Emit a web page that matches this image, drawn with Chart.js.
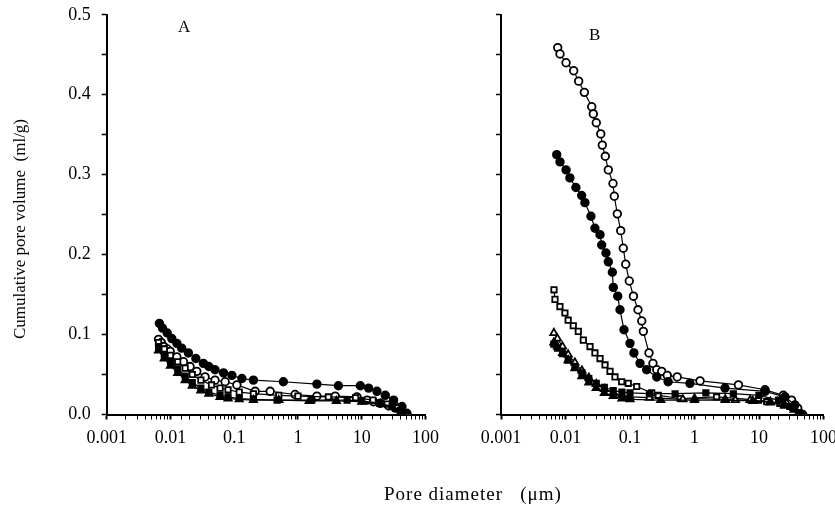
<!DOCTYPE html>
<html>
<head>
<meta charset="utf-8">
<script src="https://cdn.jsdelivr.net/npm/chart.js@4/dist/chart.umd.min.js"></script>
<style>
  body { margin: 0; background: #fff; }
  #wrap { position: relative; width: 835px; height: 509px; overflow: hidden; }
  canvas { position: absolute; top: -7px; }
  .txt { position: absolute; font-family: "Liberation Serif", serif; font-size: 17px; color: #000; white-space: nowrap; }
</style>
</head>
<body>
<div id="wrap">
  <canvas id="chartA" width="447" height="516" style="left:0"></canvas>
  <canvas id="chartB" width="445" height="516" style="left:400px"></canvas>
  <div class="txt" style="left:178px; top:17px;">A</div>
  <div class="txt" style="left:589px; top:25px;">B</div>
  <div class="txt" style="left:384px; top:483px; font-size:19px; letter-spacing:1px;">Pore diameter&nbsp;&nbsp;&nbsp;(μm)</div>
  <div class="txt" style="left:20px; top:229px; transform: translate(-50%, -50%) rotate(-90deg);">Cumulative pore volume&nbsp; (ml/g)</div>
</div>
<script>
// x tick labels (log axis) and y tick labels
const xTickLabels = [0.001, 0.01, 0.1, 1, 10, 100];
const yTickLabels = ['0.0', '0.1', '0.2', '0.3', '0.4', '0.5'];

// ---- Panel A ----
const aFilledCircleX = [0.0067, 0.0075, 0.0089, 0.0105, 0.0126, 0.015, 0.0191, 0.025, 0.0328, 0.04, 0.05, 0.068, 0.092, 0.132, 0.2, 0.59, 1.98, 4.3, 9.5, 12.8, 17.3, 23.4, 31.6, 42.7, 51];
const aFilledCircleY = [0.114, 0.108, 0.102, 0.095, 0.089, 0.083, 0.077, 0.070, 0.064, 0.060, 0.056, 0.052, 0.049, 0.045, 0.043, 0.041, 0.038, 0.036, 0.036, 0.033, 0.029, 0.024, 0.018, 0.010, 0.0015];

const aOpenCircleX = [0.0065, 0.0072, 0.0079, 0.0089, 0.0099, 0.0126, 0.016, 0.0203, 0.0259, 0.0349, 0.05, 0.072, 0.11, 0.213, 0.366, 0.9, 1.98, 3.84, 8.4, 12.1, 15.3, 19.5, 26.3, 33.6, 42.7, 51];
const aOpenCircleY = [0.094, 0.090, 0.085, 0.082, 0.079, 0.072, 0.066, 0.060, 0.054, 0.047, 0.043, 0.041, 0.037, 0.029, 0.029, 0.025, 0.023, 0.023, 0.022, 0.018, 0.016, 0.014, 0.011, 0.008, 0.004, 0.0];

const aOpenSquareX = [0.0065, 0.008, 0.01, 0.013, 0.017, 0.022, 0.03, 0.044, 0.06, 0.08, 0.12, 0.2, 0.5, 1, 3, 8, 15, 25, 35, 50];
const aOpenSquareY = [0.090, 0.082, 0.074, 0.066, 0.058, 0.050, 0.043, 0.037, 0.033, 0.031, 0.028, 0.026, 0.024, 0.023, 0.022, 0.021, 0.018, 0.013, 0.008, 0.0];

const aFilledSquareX = [0.0065, 0.008, 0.01, 0.013, 0.017, 0.022, 0.03, 0.04, 0.06, 0.08, 0.12, 0.2, 0.47, 1.65, 5.9, 10, 20, 30, 40, 50];
const aFilledSquareY = [0.085, 0.075, 0.066, 0.057, 0.048, 0.040, 0.033, 0.028, 0.024, 0.022, 0.020, 0.019, 0.018, 0.018, 0.018, 0.017, 0.014, 0.010, 0.005, 0.0];

const aFilledTriangleX = [0.0065, 0.008, 0.01, 0.013, 0.017, 0.022, 0.03, 0.04, 0.06, 0.08, 0.12, 0.2, 0.5, 1.5, 4, 10, 20, 30, 45];
const aFilledTriangleY = [0.080, 0.070, 0.061, 0.052, 0.043, 0.036, 0.030, 0.026, 0.022, 0.020, 0.019, 0.018, 0.018, 0.017, 0.017, 0.016, 0.013, 0.009, 0.003];

// ---- Panel B ----
const bOpenCircleX = [0.00757, 0.00822, 0.0102, 0.0134, 0.016, 0.0196, 0.0255, 0.027, 0.030, 0.0352, 0.0372, 0.0414, 0.0461, 0.0545, 0.0571, 0.0636, 0.0718, 0.0787, 0.0858, 0.0975, 0.113, 0.133, 0.152, 0.161, 0.197, 0.227, 0.26, 0.31, 0.378, 0.54, 1.22, 4.8, 12.4, 23.8, 32, 39.8, 47.6];
const bOpenCircleY = [0.459, 0.451, 0.440, 0.430, 0.417, 0.403, 0.385, 0.376, 0.365, 0.351, 0.337, 0.323, 0.306, 0.289, 0.273, 0.251, 0.230, 0.208, 0.188, 0.167, 0.148, 0.131, 0.117, 0.104, 0.077, 0.064, 0.056, 0.054, 0.049, 0.047, 0.042, 0.037, 0.031, 0.024, 0.018, 0.008, 0.0];

const bFilledCircleX = [0.00731, 0.00822, 0.0102, 0.0117, 0.0145, 0.0178, 0.020, 0.0248, 0.0286, 0.0343, 0.0364, 0.0424, 0.0461, 0.0532, 0.0551, 0.0645, 0.070, 0.0807, 0.1, 0.115, 0.143, 0.181, 0.26, 0.39, 0.85, 2.97, 12.4, 25.3, 36, 46];
const bFilledCircleY = [0.325, 0.316, 0.306, 0.296, 0.284, 0.274, 0.265, 0.248, 0.233, 0.225, 0.212, 0.202, 0.191, 0.178, 0.159, 0.148, 0.131, 0.106, 0.089, 0.077, 0.064, 0.056, 0.047, 0.041, 0.039, 0.033, 0.029, 0.022, 0.012, 0.0];

const bOpenSquareX = [0.00663, 0.00687, 0.0082, 0.0098, 0.011, 0.0132, 0.0158, 0.0189, 0.024, 0.0286, 0.0343, 0.041, 0.049, 0.0585, 0.0743, 0.094, 0.127, 0.217, 0.275, 0.6, 2.2, 9.8, 13.2, 21, 32, 40.7];
const bOpenSquareY = [0.156, 0.144, 0.135, 0.127, 0.118, 0.111, 0.104, 0.093, 0.085, 0.077, 0.070, 0.062, 0.054, 0.047, 0.041, 0.039, 0.035, 0.027, 0.024, 0.020, 0.022, 0.018, 0.016, 0.014, 0.010, 0.002];

const bOpenTriangleX = [0.0066, 0.0075, 0.009, 0.011, 0.014, 0.018, 0.023, 0.03, 0.04, 0.055, 0.075, 0.1, 0.2, 0.66, 1, 3, 4.3, 7.3, 15, 25, 35, 45];
const bOpenTriangleY = [0.102, 0.095, 0.085, 0.075, 0.065, 0.055, 0.046, 0.038, 0.032, 0.027, 0.024, 0.022, 0.021, 0.019, 0.020, 0.019, 0.018, 0.018, 0.016, 0.012, 0.008, 0.0];

const bFilledSquareX = [0.0066, 0.0075, 0.009, 0.011, 0.014, 0.018, 0.023, 0.03, 0.04, 0.055, 0.075, 0.1, 0.2, 0.5, 1.5, 4, 10, 20, 30, 42];
const bFilledSquareY = [0.088, 0.083, 0.076, 0.068, 0.060, 0.052, 0.045, 0.039, 0.034, 0.030, 0.028, 0.027, 0.026, 0.026, 0.027, 0.026, 0.024, 0.018, 0.010, 0.002];

const bFilledTriangleX = [0.0066, 0.0075, 0.009, 0.011, 0.014, 0.018, 0.023, 0.03, 0.04, 0.055, 0.075, 0.1, 0.3, 1, 3, 8, 15, 25, 35, 45];
const bFilledTriangleY = [0.090, 0.085, 0.077, 0.068, 0.058, 0.048, 0.040, 0.033, 0.027, 0.023, 0.020, 0.019, 0.018, 0.018, 0.018, 0.017, 0.015, 0.011, 0.006, 0.0];

function pts(xs, ys) {
  return xs.map((x, i) => ({ x: x, y: ys[i] }));
}

function series(xs, ys, style, filled) {
  return {
    data: pts(xs, ys),
    borderColor: '#000',
    borderWidth: 1.2,
    pointStyle: style,
    pointRadius: style === 'triangle' ? 4.2 : 3.8,
    pointBorderWidth: 1.8,
    pointBorderColor: '#000',
    pointBackgroundColor: filled ? '#000' : '#fff',
    tension: 0,
    fill: false
  };
}

function isDecade(v) {
  const l = Math.log10(v);
  return Math.abs(l - Math.round(l)) < 1e-6;
}

// label overflow (half label + tick padding) sets the top/right gap, canvases are shifted to compensate
function makeOptions(showYLabels, yWidth) {
  return {
    responsive: false,
    animation: false,
    layout: { padding: 0 },
    plugins: { legend: { display: false }, tooltip: { enabled: false } },
    scales: {
      x: {
        type: 'logarithmic',
        min: 0.001,
        max: 100,
        border: { color: '#000', width: 2 },
        grid: { drawOnChartArea: false, color: '#000', tickLength: 5, tickWidth: ctx => isDecade(ctx.tick.value) ? 2 : 1 },
        ticks: {
          color: '#000',
          autoSkip: false,
          maxRotation: 0,
          padding: 8,
          font: { family: 'Liberation Serif', size: 18 },
          callback: function (v) {
            const idx = xTickLabels.findIndex(t => Math.abs(Math.log10(t) - Math.log10(v)) < 1e-6);
            return idx >= 0 ? String(xTickLabels[idx]) : '';
          }
        },
        afterFit: function (scale) { scale.height = 94.5; }
      },
      y: {
        min: 0,
        max: 0.5,
        border: { color: '#000', width: 2 },
        grid: { drawOnChartArea: false, color: '#000', tickLength: 5, tickWidth: 1.5 },
        ticks: {
          stepSize: 0.05,
          color: '#000',
          padding: 11,
          font: { family: 'Liberation Serif', size: 18 },
          callback: function (v) {
            const n = Math.round(v * 20);
            if (!showYLabels || n % 2 !== 0) return '';
            return yTickLabels[n / 2];
          }
        },
        afterFit: function (scale) { scale.width = yWidth; }
      }
    }
  };
}

new Chart(document.getElementById('chartA'), {
  type: 'line',
  data: {
    datasets: [
      series(aFilledSquareX, aFilledSquareY, 'rect', true),
      series(aFilledTriangleX, aFilledTriangleY, 'triangle', true),
      series(aOpenSquareX, aOpenSquareY, 'rect', false),
      series(aOpenCircleX, aOpenCircleY, 'circle', false),
      series(aFilledCircleX, aFilledCircleY, 'circle', true)
    ]
  },
  options: makeOptions(true, 106.7)
});

new Chart(document.getElementById('chartB'), {
  type: 'line',
  data: {
    datasets: [
      series(bFilledTriangleX, bFilledTriangleY, 'triangle', true),
      series(bFilledSquareX, bFilledSquareY, 'rect', true),
      series(bOpenTriangleX, bOpenTriangleY, 'triangle', false),
      series(bOpenSquareX, bOpenSquareY, 'rect', false),
      series(bFilledCircleX, bFilledCircleY, 'circle', true),
      series(bOpenCircleX, bOpenCircleY, 'circle', false)
    ]
  },
  options: makeOptions(false, 101)
});
</script>
</body>
</html>
